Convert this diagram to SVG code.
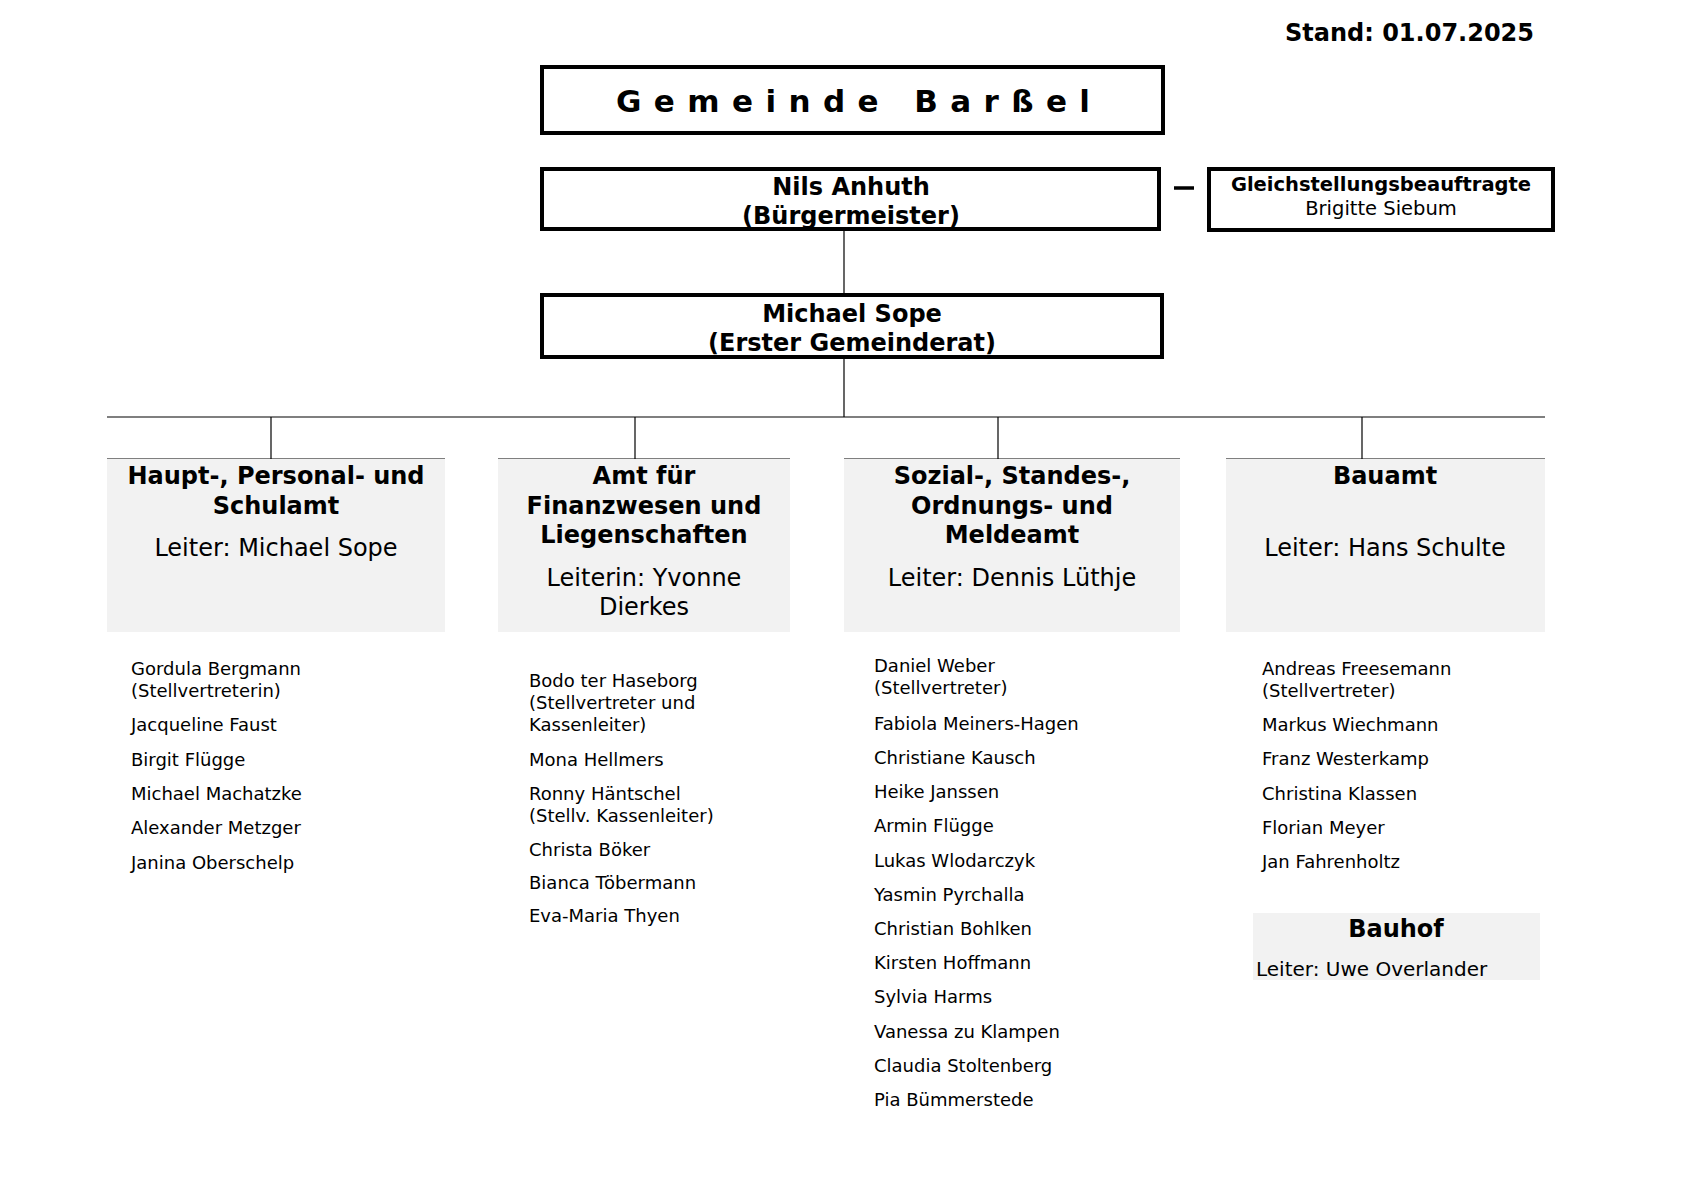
<svg xmlns="http://www.w3.org/2000/svg" width="1701" height="1203" viewBox="0 0 1701 1203">
<style>
text{font-family:"DejaVu Sans",Verdana,sans-serif;fill:#000}
.b{font-weight:bold}
.h{font-size:24px;font-weight:bold;text-anchor:middle}
.l{font-size:24px;text-anchor:middle}
.s{font-size:18px}
.box{fill:#fff;stroke:#000;stroke-width:4}
.dept{fill:#f2f2f2}
.con line{stroke:#000;stroke-width:1.2}
</style>
<rect width="1701" height="1203" fill="#fff"/>
<text x="1534" y="41" class="b" font-size="24" text-anchor="end">Stand: 01.07.2025</text>

<g id="connectors" class="con">
<line x1="844" y1="231" x2="844" y2="293"/>
<line x1="844" y1="359" x2="844" y2="417"/>
<line x1="107" y1="417" x2="1545" y2="417"/>
<line x1="271" y1="417" x2="271" y2="459"/>
<line x1="635" y1="417" x2="635" y2="459"/>
<line x1="998" y1="417" x2="998" y2="459"/>
<line x1="1362" y1="417" x2="1362" y2="459"/>
<line x1="1174" y1="188" x2="1194" y2="188" style="stroke-width:3.5"/>
<line x1="107" y1="459" x2="445" y2="459"/>
<line x1="498" y1="459" x2="790" y2="459"/>
<line x1="844" y1="459" x2="1180" y2="459"/>
<line x1="1226" y1="459" x2="1545" y2="459"/>
</g>

<g id="gemeinde">
<rect class="box" x="542" y="67" width="621" height="66"/>
<text x="616" y="112" class="b" font-size="31" textLength="474" lengthAdjust="spacing">Gemeinde Barßel</text>
</g>

<g id="buergermeister">
<rect class="box" x="542" y="169" width="617" height="60"/>
<text x="851" y="195" class="h">Nils Anhuth</text>
<text x="851" y="224" class="h">(Bürgermeister)</text>
</g>

<g id="gleichstellung">
<rect class="box" x="1209" y="169" width="344" height="61"/>
<text x="1381" y="191" class="b" font-size="19.5" text-anchor="middle">Gleichstellungsbeauftragte</text>
<text x="1381" y="215" font-size="19.5" text-anchor="middle">Brigitte Siebum</text>
</g>

<g id="gemeinderat">
<rect class="box" x="542" y="295" width="620" height="62"/>
<text x="852" y="322" class="h">Michael Sope</text>
<text x="852" y="351" class="h">(Erster Gemeinderat)</text>
</g>

<g id="hauptamt">
<rect class="dept" x="107" y="459" width="338" height="173"/>
<text x="276" y="484" class="h">Haupt-, Personal- und</text>
<text x="276" y="513.5" class="h">Schulamt</text>
<text x="276" y="556" class="l">Leiter: Michael Sope</text>
<text x="131" y="675" class="s">Gordula Bergmann</text>
<text x="131" y="697" class="s">(Stellvertreterin)</text>
<text x="131" y="731" class="s">Jacqueline Faust</text>
<text x="131" y="765.5" class="s">Birgit Flügge</text>
<text x="131" y="800" class="s">Michael Machatzke</text>
<text x="131" y="834" class="s">Alexander Metzger</text>
<text x="131" y="868.5" class="s">Janina Oberschelp</text>
</g>

<g id="finanzamt">
<rect class="dept" x="498" y="459" width="292" height="173"/>
<text x="644" y="484" class="h">Amt für</text>
<text x="644" y="513.5" class="h">Finanzwesen und</text>
<text x="644" y="543" class="h">Liegenschaften</text>
<text x="644" y="586" class="l">Leiterin: Yvonne</text>
<text x="644" y="615" class="l">Dierkes</text>
<text x="529" y="687" class="s">Bodo ter Haseborg</text>
<text x="529" y="709" class="s">(Stellvertreter und</text>
<text x="529" y="731" class="s">Kassenleiter)</text>
<text x="529" y="765.5" class="s">Mona Hellmers</text>
<text x="529" y="800" class="s">Ronny Häntschel</text>
<text x="529" y="822" class="s">(Stellv. Kassenleiter)</text>
<text x="529" y="855.5" class="s">Christa Böker</text>
<text x="529" y="889" class="s">Bianca Töbermann</text>
<text x="529" y="922" class="s">Eva-Maria Thyen</text>
</g>

<g id="sozialamt">
<rect class="dept" x="844" y="459" width="336" height="173"/>
<text x="1012" y="484" class="h">Sozial-, Standes-,</text>
<text x="1012" y="513.5" class="h">Ordnungs- und</text>
<text x="1012" y="543" class="h">Meldeamt</text>
<text x="1012" y="586" class="l">Leiter: Dennis Lüthje</text>
<text x="874" y="672" class="s">Daniel Weber</text>
<text x="874" y="694" class="s">(Stellvertreter)</text>
<text x="874" y="729.5" class="s">Fabiola Meiners-Hagen</text>
<text x="874" y="763.5" class="s">Christiane Kausch</text>
<text x="874" y="797.5" class="s">Heike Janssen</text>
<text x="874" y="831.5" class="s">Armin Flügge</text>
<text x="874" y="866.5" class="s">Lukas Wlodarczyk</text>
<text x="874" y="900.5" class="s">Yasmin Pyrchalla</text>
<text x="874" y="934.5" class="s">Christian Bohlken</text>
<text x="874" y="968.5" class="s">Kirsten Hoffmann</text>
<text x="874" y="1002.5" class="s">Sylvia Harms</text>
<text x="874" y="1037.5" class="s">Vanessa zu Klampen</text>
<text x="874" y="1071.5" class="s">Claudia Stoltenberg</text>
<text x="874" y="1105.5" class="s">Pia Bümmerstede</text>
</g>

<g id="bauamt">
<rect class="dept" x="1226" y="459" width="319" height="173"/>
<text x="1385" y="484" class="h">Bauamt</text>
<text x="1385" y="556" class="l">Leiter: Hans Schulte</text>
<text x="1262" y="675" class="s">Andreas Freesemann</text>
<text x="1262" y="697" class="s">(Stellvertreter)</text>
<text x="1262" y="731" class="s">Markus Wiechmann</text>
<text x="1262" y="765" class="s">Franz Westerkamp</text>
<text x="1262" y="800" class="s">Christina Klassen</text>
<text x="1262" y="834" class="s">Florian Meyer</text>
<text x="1262" y="868" class="s">Jan Fahrenholtz</text>
</g>

<g id="bauhof">
<rect class="dept" x="1253" y="913" width="287" height="67"/>
<text x="1396" y="937" class="h">Bauhof</text>
<text x="1256" y="976" font-size="20">Leiter: Uwe Overlander</text>
</g>
</svg>
